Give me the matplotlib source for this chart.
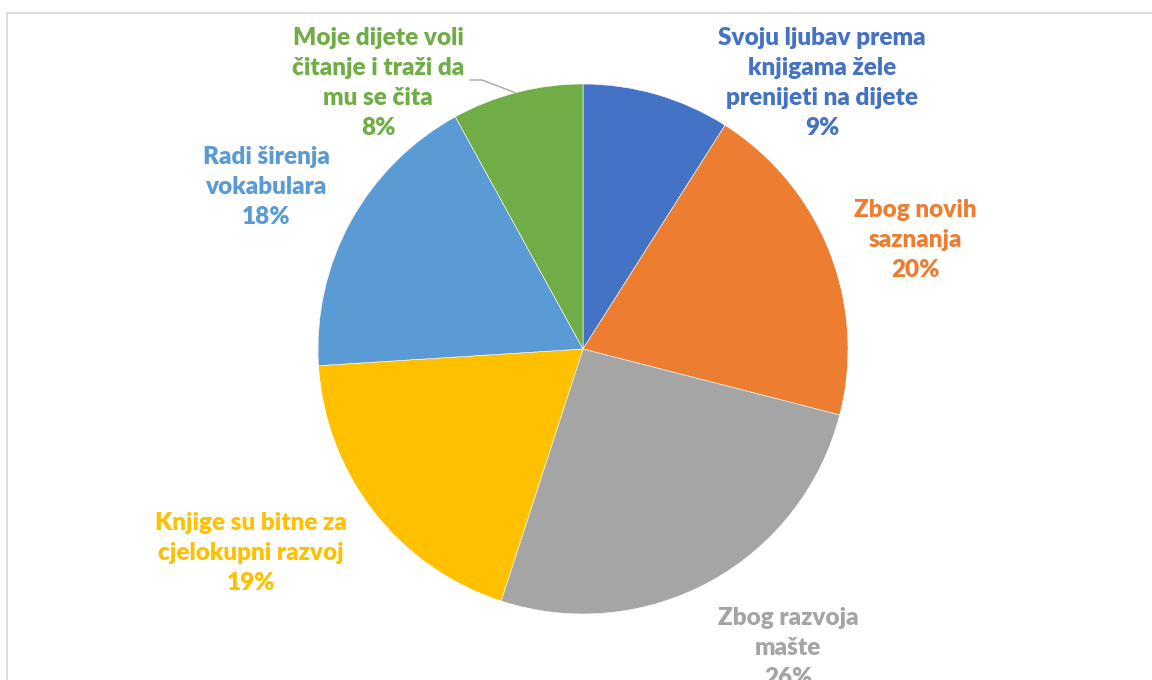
import matplotlib.pyplot as plt
from matplotlib.patches import Rectangle

# data
categories = ["Svoju ljubav prema\nknjigama žele\nprenijeti na dijete",
              "Zbog novih\nsaznanja",
              "Zbog razvoja\nmašte",
              "Knjige su bitne za\ncjelokupni razvoj",
              "Radi širenja\nvokabulara",
              "Moje dijete voli\nčitanje i traži da\nmu se čita"]
values = [9, 20, 26, 19, 18, 8]
colors = ["#4472C4", "#ED7D31", "#A5A5A5", "#FFC000", "#5B9BD5", "#70AD47"]
text_colors = ["#4472C4", "#ED7D31", "#A5A5A5", "#FFC000", "#5B9BD5", "#70AD47"]

# label centres in pixels (x, y from top)
label_px = [(822, 83), (915, 240), (788, 648), (251, 553), (266, 187), (378, 83)]

W, H = 1152, 680
cx, cy, r = 583, 349, 265

plt.rcParams['font.family'] = ['Lato', 'DejaVu Sans']
fig = plt.figure(figsize=(W / 100, H / 100), dpi=100)

# chart border
fig.patches.append(Rectangle((7 / W, -0.1), 1.2, (H - 12.5) / H + 0.1,
                             transform=fig.transFigure, fill=False,
                             edgecolor="#D9D9D9", linewidth=1.3))

ax = fig.add_axes([0, 0, 1, 1])
ax.set_xlim(0, W)
ax.set_ylim(H, 0)
ax.axis("off")

pax = fig.add_axes([(cx - r) / W, (H - cy - r) / H, 2 * r / W, 2 * r / H])
pax.pie(values, colors=colors, startangle=90, counterclock=False,
        wedgeprops=dict(linewidth=0.4, edgecolor="white"))
pax.set_xlim(-1, 1)
pax.set_ylim(-1, 1)
pax.set_aspect("equal")

for cat, v, c, (x, y) in zip(categories, values, text_colors, label_px):
    ax.text(x, y, f"{cat}\n{v}%", color=c, fontsize=17.5, fontweight="heavy",
            ha="center", va="center", linespacing=1.45, clip_on=False)

# leader line for the small green slice
ax.plot([470, 482, 516], [80, 80, 93], color="#A5A5A5", linewidth=1)

fig.savefig("out.png", dpi=100)
